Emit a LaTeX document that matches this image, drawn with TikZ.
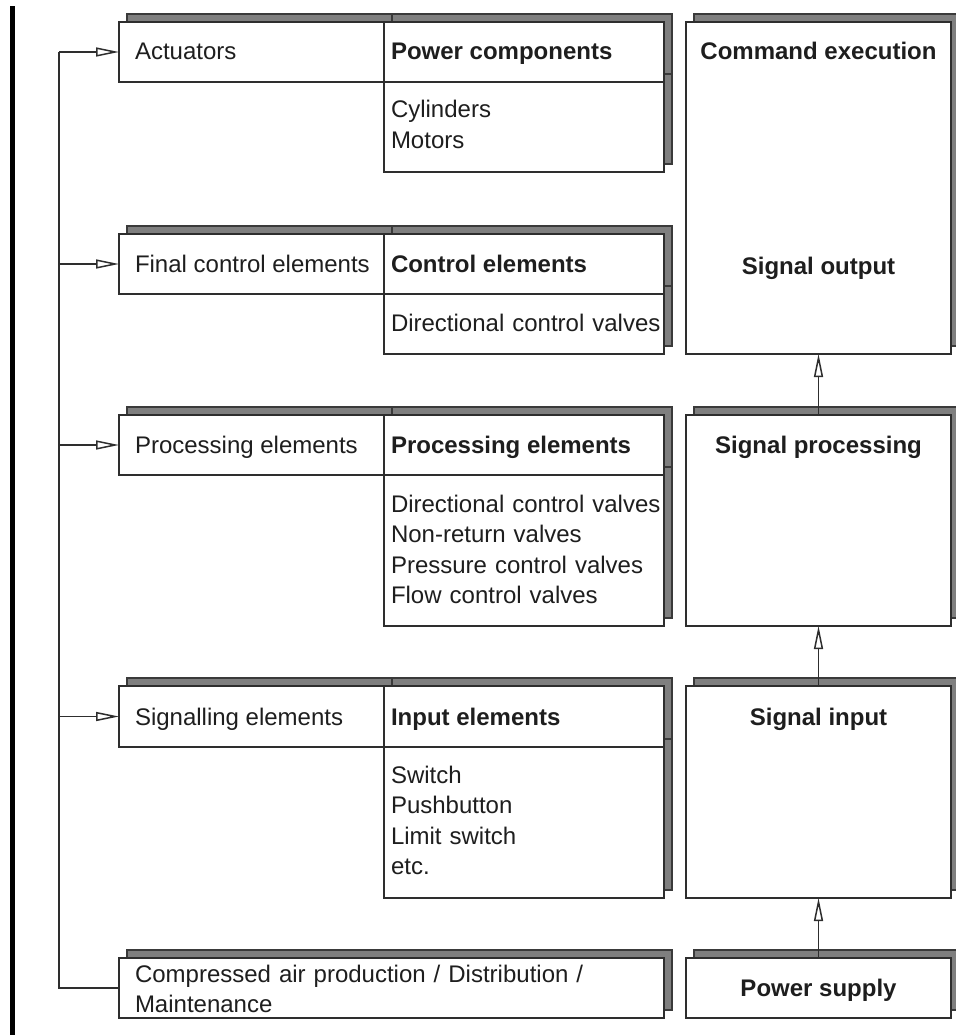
\documentclass[tikz,border=0pt]{standalone}
\usepackage{fontspec}
\setmainfont{Liberation Sans}
\usetikzlibrary{arrows.meta,backgrounds}
\definecolor{boxc}{HTML}{2E2E2E}
\definecolor{shadc}{HTML}{7F7F7F}
\definecolor{shadb}{HTML}{3A3A3A}
\definecolor{txtc}{HTML}{1E1E1E}
\begin{document}
\begin{tikzpicture}[x=1pt,y=-1pt,
  box/.style={draw=boxc, line width=1.5pt, fill=white, inner sep=0pt, outer sep=0pt, anchor=north west},
  shad/.style={fill=shadc, draw=shadb, line width=1.2pt},
  lbl/.style={inner sep=0pt, outer sep=0pt, anchor=base west, text=txtc, font=\fontsize{24}{30.5}\selectfont},
  hdr/.style={lbl, font=\fontsize{24}{30.5}\selectfont\bfseries},
  ctr/.style={hdr, anchor=base},
  lst/.style={lbl, text width=275pt, align=left},
  conn/.style={draw=boxc, line width=1.5pt},
  arr/.style={conn, -{Triangle[open, length=23pt, width=9pt]}}
]
\useasboundingbox (0,0) rectangle (955,1035);
\fill[black] (10,6) rectangle (15,1035);

% boxes
\node[box, minimum width=265, minimum height=60] (act) at (119,22) {};
\node[box, minimum width=265, minimum height=60] (fce) at (119,234) {};
\node[box, minimum width=265, minimum height=60] (pe) at (119,415) {};
\node[box, minimum width=265, minimum height=61] (se) at (119,686) {};
\node[box, minimum width=280, minimum height=60] (pch) at (384,22) {};
\node[box, minimum width=280, minimum height=90] (pcb) at (384,82) {};
\node[box, minimum width=280, minimum height=60] (ceh) at (384,234) {};
\node[box, minimum width=280, minimum height=60] (ceb) at (384,294) {};
\node[box, minimum width=280, minimum height=60] (peh) at (384,415) {};
\node[box, minimum width=280, minimum height=151] (peb) at (384,475) {};
\node[box, minimum width=280, minimum height=61] (ieh) at (384,686) {};
\node[box, minimum width=280, minimum height=151] (ieb) at (384,747) {};
\node[box, minimum width=545, minimum height=60] (air) at (119,958) {};
\node[box, minimum width=265, minimum height=332] (cmd) at (686,22) {};
\node[box, minimum width=265, minimum height=211] (sp) at (686,415) {};
\node[box, minimum width=265, minimum height=212] (si) at (686,686) {};
\node[box, minimum width=265, minimum height=60] (ps) at (686,958) {};

\begin{pgfonlayer}{background}
\foreach \n in {act,fce,pe,se,pch,pcb,ceh,ceb,peh,peb,ieh,ieb,air,cmd,sp,si,ps}
  \draw[shad] ([shift={(8,-8)}]\n.south west) rectangle ([shift={(8,-8)}]\n.north east);
\end{pgfonlayer}

% texts
\node[lbl] (t1) at (135,60) {Actuators};
\node[hdr] (t2) at (391,60) {Power components};
\node[lst] (t3) at (391,118) {Cylinders\\Motors};
\node[ctr] (t4) at (818.5,60) {Command execution};
\node[lbl] (t5) at (135,272) {Final control elements};
\node[hdr] (t6) at (391,272) {Control elements};
\node[lst] (t7) at (391,331) {Directional control valves};
\node[ctr] (t8) at (818.5,274) {Signal output};
\node[lbl] (t9) at (135,453) {Processing elements};
\node[hdr] (t10) at (391,453) {Processing elements};
\node[lst] (t11) at (391,512) {Directional control valves\\Non-return valves\\Pressure control valves\\Flow control valves};
\node[ctr] (t12) at (818.5,453) {Signal processing};
\node[lbl] (t13) at (135,725) {Signalling elements};
\node[hdr] (t14) at (391,725) {Input elements};
\node[lst] (t15) at (391,783) {Switch\\Pushbutton\\Limit switch\\etc.};
\node[ctr] (t16) at (818.5,725) {Signal input};
\node[lst, text width=530pt] (t17) at (135,982) {Compressed air production / Distribution /\\Maintenance};
\node[ctr] (t18) at (818.5,996) {Power supply};

% connectors
\coordinate (fbtop) at (59,52);
\draw[conn] (air.west) -| (fbtop);
\draw[arr] (fbtop) -- (act.west);
\draw[arr] (fbtop |- fce.west) -- (fce.west);
\draw[arr] (fbtop |- pe.west) -- (pe.west);
\draw[arr] (fbtop |- se.west) -- (se.west);
\draw[arr] (ps.north) -- (si.south);
\draw[arr] (si.north) -- (sp.south);
\draw[arr] (sp.north) -- (cmd.south);
\end{tikzpicture}
\end{document}
